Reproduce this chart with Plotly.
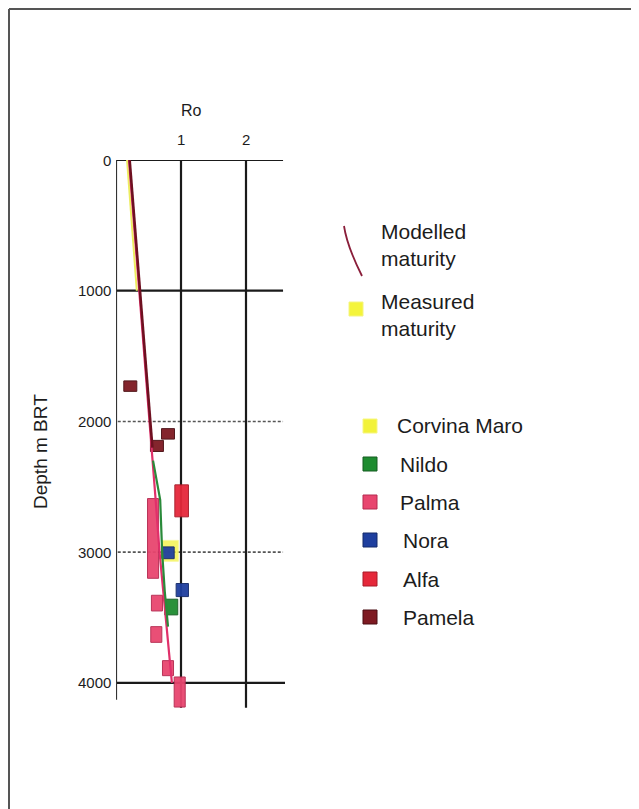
import plotly.graph_objects as go

# ---------------- data ----------------
depth_ticks = [0, 1000, 2000, 3000, 4000]
depth_labels = ["0", "1000", "2000", "3000", "4000"]
ro_ticks = [1, 2]
ro_labels = ["1", "2"]

series = ["Corvina Maro", "Nildo", "Palma", "Nora", "Alfa", "Pamela"]
colors = {"Corvina Maro": "#f2f23a", "Nildo": "#1e8c30", "Palma": "#e8466f",
          "Nora": "#1f3f9f", "Alfa": "#e5283a", "Pamela": "#7e1a22"}
edge = {"Corvina Maro": "#f6f680", "Nildo": "#145c20", "Palma": "#b52a50",
        "Nora": "#142a6a", "Alfa": "#a81a28", "Pamela": "#4a0d12"}

# measured maturity samples: Ro, top depth, bottom depth
meas_ro = {
    "Corvina Maro": [0.83],
    "Nildo": [0.85],
    "Palma": [0.57, 0.63, 0.62, 0.80, 0.98],
    "Nora": [0.80, 1.02],
    "Alfa": [1.01],
    "Pamela": [0.22, 0.80, 0.63],
}
meas_top = {
    "Corvina Maro": [2910],
    "Nildo": [3360],
    "Palma": [2590, 3330, 3570, 3830, 3955],
    "Nora": [2960, 3240],
    "Alfa": [2485],
    "Pamela": [1690, 2055, 2145],
}
meas_bot = {
    "Corvina Maro": [3070],
    "Nildo": [3480],
    "Palma": [3200, 3450, 3690, 3945, 4185],
    "Nora": [3050, 3340],
    "Alfa": [2730],
    "Pamela": [1770, 2135, 2230],
}
meas_w = {"Corvina Maro": 0.26, "Nildo": 0.2, "Palma": 0.17, "Nora": 0.19,
          "Alfa": 0.21, "Pamela": 0.2}

# modelled maturity curves
model_names = ["Corvina Maro", "Palma", "Nildo", "Pamela"]
model_depth = {
    "Corvina Maro": [0, 500, 1000],
    "Pamela": [0, 1000, 2000, 2200],
    "Palma": [0, 1000, 2000, 2300, 2600, 3000, 3500, 4000],
    "Nildo": [2300, 2600, 3000, 3300, 3570],
}
model_ro = {
    "Corvina Maro": [0.17, 0.24, 0.32],
    "Pamela": [0.21, 0.37, 0.52, 0.56],
    "Palma": [0.20, 0.36, 0.52, 0.57, 0.61, 0.67, 0.76, 0.86],
    "Nildo": [0.57, 0.68, 0.71, 0.75, 0.80],
}
model_col = {"Corvina Maro": "#eded60", "Pamela": "#6e1020",
             "Palma": "#e0306a", "Nildo": "#2a8a3a"}
model_w = {"Corvina Maro": 2.0, "Pamela": 2.6, "Palma": 2.2, "Nildo": 2.2}

# ---------------- figure ----------------
OFF = 8                    # page body margin
W, H = 639 - OFF, 809 - OFF
PL, PR, PT, PB = 116, 285, 160, 709   # plot area in page pixels
L, R, T, B = PL - OFF, PR - OFF, PT - OFF, PB - OFF
XR = [0, 2.6]
YR = [4200, 0]
FONT = "Liberation Sans, Arial, sans-serif"
TXT = "#1c1c1c"

fig = go.Figure()

for s in model_names:
    fig.add_trace(go.Scatter(x=model_ro[s], y=model_depth[s], mode="lines",
                             line=dict(color=model_col[s], width=model_w[s]),
                             showlegend=False, hoverinfo="skip"))

order = ["Corvina Maro", "Palma", "Alfa", "Pamela", "Nildo", "Nora"]
for s in order:
    tops = meas_top[s]
    bots = meas_bot[s]
    fig.add_trace(go.Bar(x=meas_ro[s], base=tops,
                         y=[b - t for t, b in zip(tops, bots)],
                         width=[meas_w[s]] * len(tops),
                         marker=dict(color=colors[s], line=dict(color=edge[s], width=1)),
                         opacity=0.95 if s != "Corvina Maro" else 0.75,
                         name=s, showlegend=False, hoverinfo="skip"))


def px(xp):
    return (xp - PL) / (PR - PL)


def py(yp):
    return 1 - (yp - PT) / (PB - PT)


shapes = []
for d in depth_ticks:
    dashed = d in (2000, 3000)
    shapes.append(dict(type="line", xref="x", yref="y", x0=-0.05,
                       x1=2.62 if d == 4000 else 2.57, y0=d, y1=d,
                       line=dict(color="#555555" if dashed else "#1a1a1a",
                                 width=1.6 if dashed else 2.2,
                                 dash="3px,2px" if dashed else "solid"),
                       layer="below"))
shapes.append(dict(type="line", xref="x", yref="y", x0=0, x1=0, y0=0, y1=4130,
                   line=dict(color="#333333", width=2.2), layer="below"))
for r in ro_ticks:
    shapes.append(dict(type="line", xref="x", yref="y", x0=r, x1=r, y0=0, y1=4190,
                       line=dict(color="#1a1a1a", width=2.2), layer="below"))

# outer frame (left and top edges of the scanned figure)
shapes.append(dict(type="line", xref="paper", yref="paper",
                   x0=px(9), x1=px(9), y0=py(OFF + 1), y1=py(809),
                   line=dict(color="#555555", width=2)))
shapes.append(dict(type="line", xref="paper", yref="paper",
                   x0=px(9), x1=px(639), y0=py(OFF + 1), y1=py(OFF + 1),
                   line=dict(color="#555555", width=2)))

# legend: modelled line icon
shapes.append(dict(type="path", xref="paper", yref="paper",
                   path=f"M {px(344)},{py(226)} Q {px(347)},{py(246)} {px(362)},{py(276)}",
                   line=dict(color="#8a1e3a", width=1.8)))
# measured square
shapes.append(dict(type="rect", xref="paper", yref="paper",
                   x0=px(349), x1=px(363), y0=py(302), y1=py(316),
                   fillcolor="#f4f43a", line=dict(color="#f4f480", width=1)))

annotations = []
annotations.append(dict(xref="paper", yref="paper", x=px(379), y=py(245), xanchor="left",
                        yanchor="middle", text="Modelled<br>maturity", showarrow=False, align="left",
                        font=dict(family=FONT, size=21, color=TXT)))
annotations.append(dict(xref="paper", yref="paper", x=px(379), y=py(315), xanchor="left",
                        yanchor="middle", text="Measured<br>maturity", showarrow=False, align="left",
                        font=dict(family=FONT, size=21, color=TXT)))

leg_y = [426, 464, 502, 540, 579, 617]
leg_tx = [395, 398, 398, 401, 401, 401]
for s, yy, tx in zip(series, leg_y, leg_tx):
    shapes.append(dict(type="rect", xref="paper", yref="paper",
                       x0=px(363), x1=px(377), y0=py(yy - 7), y1=py(yy + 7),
                       fillcolor=colors[s], line=dict(color=edge[s], width=1)))
    annotations.append(dict(xref="paper", yref="paper", x=px(tx), y=py(yy), xanchor="left",
                            yanchor="middle", text=s, showarrow=False,
                            font=dict(family=FONT, size=21, color=TXT)))

# axis labels
for d, lab in zip(depth_ticks, depth_labels):
    annotations.append(dict(xref="paper", yref="y", x=0, y=d, xanchor="right", yanchor="middle",
                            xshift=-3, text=lab, showarrow=False,
                            font=dict(family=FONT, size=15, color=TXT)))
for r, lab in zip(ro_ticks, ro_labels):
    annotations.append(dict(xref="x", yref="paper", x=r, y=1, xanchor="center", yanchor="bottom",
                            yshift=10, text=lab, showarrow=False,
                            font=dict(family=FONT, size=15, color=TXT)))
annotations.append(dict(xref="paper", yref="paper", x=px(191), y=py(110), xanchor="center",
                        yanchor="middle", text="Ro", showarrow=False,
                        font=dict(family=FONT, size=16, color=TXT)))
annotations.append(dict(xref="paper", yref="paper", x=px(40), y=py(452), xanchor="center",
                        yanchor="middle", text="Depth m BRT", showarrow=False, textangle=-90,
                        font=dict(family=FONT, size=19, color=TXT)))

fig.update_layout(
    width=W, height=H,
    margin=dict(l=L, r=W - R, t=T, b=H - B, pad=0),
    paper_bgcolor="white", plot_bgcolor="white",
    barmode="overlay",
    xaxis=dict(range=XR, showgrid=False, zeroline=False, showline=False,
               showticklabels=False, ticks="", fixedrange=True),
    yaxis=dict(range=YR, showgrid=False, zeroline=False, showline=False,
               showticklabels=False, ticks="", fixedrange=True),
    shapes=shapes, annotations=annotations,
    font=dict(family=FONT),
)

fig.write_html("out.html")
